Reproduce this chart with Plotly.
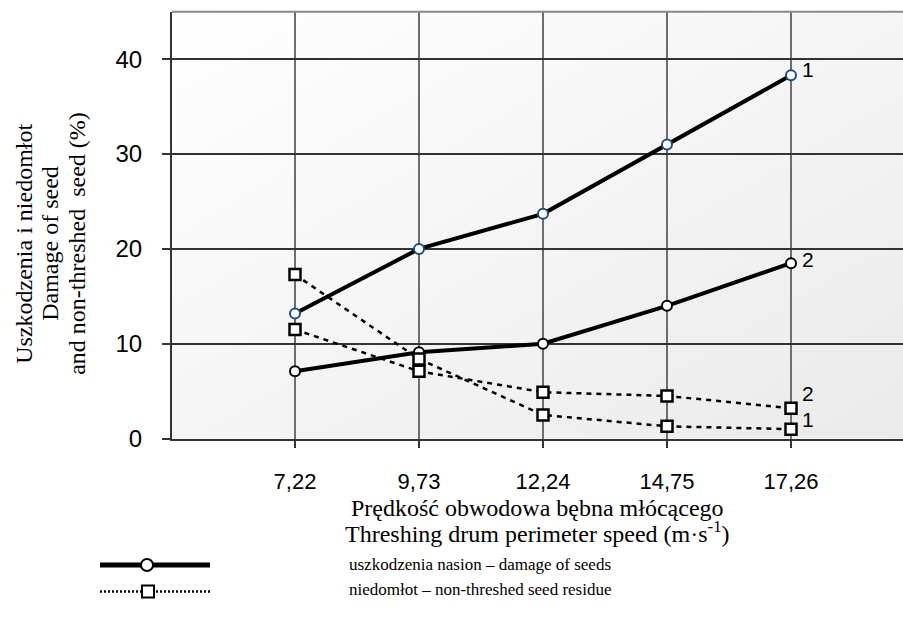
import base64
import plotly.graph_objects as go

# ---- data ----
speeds = [7.22, 9.73, 12.24, 14.75, 17.26]
speed_labels = ["7,22", "9,73", "12,24", "14,75", "17,26"]
damage_1 = [13.2, 20.0, 23.7, 31.0, 38.3]
damage_2 = [7.1, 9.1, 10.0, 14.0, 18.5]
residue_1 = [17.3, 8.4, 2.5, 1.3, 1.0]
residue_2 = [11.5, 7.1, 4.9, 4.5, 3.2]
y_ticks = [0, 10, 20, 30, 40]
end_labels_damage = ["1", "2"]
end_labels_residue = ["1", "2"]
y_title_lines = ["Uszkodzenia i niedomłot", "Damage of seed", "and non-threshed\u00a0 seed (%)"]
x_title_lines = ["Prędkość obwodowa bębna młócącego",
                 "Threshing drum perimeter speed (m·s<sup>-1</sup>)"]
legend_texts = ["uszkodzenia nasion – damage of seeds",
                "niedomłot – non-threshed seed residue"]

W, H = 903, 623
L, R, T, B = 172, 903, 12, 448  # plot area in pixels

def px(x):
    return x / W

def py(y):
    return 1 - y / H

SERIF = "Liberation Serif"
SANS = "Liberation Sans"

fig = go.Figure()

# damage lines
fig.add_trace(go.Scatter(
    x=speeds, y=damage_1, mode="lines+markers",
    line=dict(color="black", width=4),
    marker=dict(symbol="circle", size=10, color="white",
                line=dict(color="#1f4e79", width=2)),
    showlegend=False, hoverinfo="skip"))
fig.add_trace(go.Scatter(
    x=speeds, y=damage_2, mode="lines+markers",
    line=dict(color="black", width=4),
    marker=dict(symbol="circle", size=10, color="white",
                line=dict(color="black", width=2)),
    showlegend=False, hoverinfo="skip"))
# residue lines
for ser in (residue_1, residue_2):
    fig.add_trace(go.Scatter(
        x=speeds, y=ser, mode="lines+markers",
        line=dict(color="black", width=2.5, dash="5px,5px"),
        marker=dict(symbol="square", size=11, color="white",
                    line=dict(color="black", width=2.5)),
        showlegend=False, hoverinfo="skip"))

ann = []
# end labels
for lab, ser, dy in ((end_labels_damage[0], damage_1, 6), (end_labels_damage[1], damage_2, 4),
                     (end_labels_residue[0], residue_1, 10), (end_labels_residue[1], residue_2, 15)):
    ann.append(dict(x=speeds[-1], y=ser[-1], text=lab, showarrow=False,
                    xanchor="center", yanchor="middle",
                    xshift=17, yshift=dy, font=dict(family=SANS, size=21, color="black")))

# y axis title (three rotated lines)
for txt, xc in zip(y_title_lines, (24, 50, 77)):
    ann.append(dict(xref="paper", yref="paper", x=px(xc), y=py(249), text=txt,
                    textangle=-90, showarrow=False, xanchor="center", yanchor="middle",
                    font=dict(family=SERIF, size=24, color="black")))
# x axis title
for txt, yc in zip(x_title_lines, (519, 543)):
    ann.append(dict(xref="paper", yref="paper", x=px(537), y=py(yc), text=txt,
                    showarrow=False, xanchor="center", yanchor="middle",
                    font=dict(family=SERIF, size=24, color="black")))
# legend texts
for txt, yc in zip(legend_texts, (577, 602)):
    ann.append(dict(xref="paper", yref="paper", x=px(347), y=py(yc), xanchor="left",
                    yanchor="middle", text=txt, showarrow=False,
                    font=dict(family=SERIF, size=17, color="black")))

shapes = [
    # top border
    dict(type="line", xref="paper", yref="paper", x0=px(L), x1=1, y0=py(T), y1=py(T),
         line=dict(color="#888888", width=2)),
    # legend samples
    dict(type="line", xref="paper", yref="paper", x0=px(100), x1=px(210), y0=py(577), y1=py(577),
         line=dict(color="black", width=5)),
    dict(type="circle", xref="paper", yref="paper", xsizemode="pixel", ysizemode="pixel",
         xanchor=px(147), yanchor=py(577), x0=-6, x1=6, y0=-6, y1=6,
         fillcolor="white", line=dict(color="black", width=2)),
    dict(type="line", xref="paper", yref="paper", x0=px(100), x1=px(210), y0=py(604), y1=py(604),
         line=dict(color="black", width=2.5, dash="2px,2px")),
    dict(type="rect", xref="paper", yref="paper", xsizemode="pixel", ysizemode="pixel",
         xanchor=px(148), yanchor=py(604), x0=-6, x1=6, y0=-6, y1=6,
         fillcolor="white", line=dict(color="black", width=2)),
]

# gradient background
svg = ('<svg xmlns="http://www.w3.org/2000/svg" width="100" height="100" preserveAspectRatio="none">'
       '<defs><linearGradient id="g" x1="0" y1="0" x2="1" y2="1">'
       '<stop offset="0" stop-color="#ffffff"/><stop offset="1" stop-color="#eaeaea"/>'
       '</linearGradient></defs><rect width="100" height="100" fill="url(#g)"/></svg>')
src = "data:image/svg+xml;base64," + base64.b64encode(svg.encode()).decode()

step = speeds[1] - speeds[0]
x0 = speeds[0] - (295 - L) / 124.0 * step
x1 = speeds[-1] + (R - 791) / 124.0 * step

fig.update_layout(
    width=W, height=H, margin=dict(l=0, r=0, t=0, b=0),
    paper_bgcolor="white", plot_bgcolor="rgba(0,0,0,0)",
    showlegend=False,
    images=[dict(source=src, xref="paper", yref="paper", x=px(L), y=py(T),
                 sizex=1 - px(L), sizey=(B - T) / H, sizing="stretch", layer="below",
                 xanchor="left", yanchor="top")],
    xaxis=dict(domain=[px(L), 1], range=[x0, x1], tickvals=speeds, ticktext=speed_labels,
               showgrid=True, gridcolor="#6e6e6e", gridwidth=1.5, zeroline=False,
               showline=True, linecolor="#333333", linewidth=2,
               ticks="outside", ticklen=7, tickwidth=1.5, tickcolor="#333333",
               ticklabelstandoff=15,
               tickfont=dict(family=SANS, size=22, color="black")),
    yaxis=dict(domain=[py(B), py(T)], range=[0, 45], tickvals=y_ticks,
               showgrid=True, gridcolor="#333333", gridwidth=1.5, zeroline=False,
               showline=True, linecolor="#333333", linewidth=2,
               ticks="outside", ticklen=8, tickwidth=1.5, tickcolor="#333333",
               ticklabelstandoff=15,
               tickfont=dict(family=SANS, size=24, color="black")),
    annotations=ann, shapes=shapes,
)

fig.write_html("out.html")
